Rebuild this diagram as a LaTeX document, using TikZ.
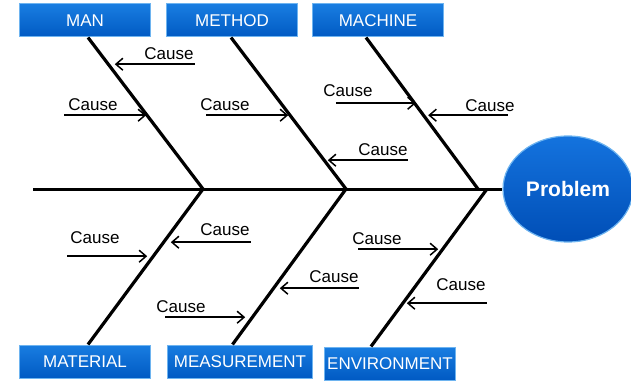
\documentclass[tikz,border=0pt]{standalone}
\usepackage{fontspec}
\setmainfont{Liberation Sans}
\usetikzlibrary{positioning, arrows.meta, shapes.geometric}

\definecolor{cattop}{RGB}{25,125,225}
\definecolor{catbottom}{RGB}{0,90,195}
\definecolor{catedge}{RGB}{110,180,240}
\definecolor{probtop}{RGB}{20,115,222}
\definecolor{probbottom}{RGB}{0,78,182}

\begin{document}
\begin{tikzpicture} [x = 1pt, y = -1pt,
			node distance = 15pt,
			category/.style = {rectangle, draw = catedge, line width = 1pt,
				top color = cattop, bottom color = catbottom,
				minimum width = 131pt, minimum height = 33pt, inner sep = 1pt,
				text = white, font = \fontsize{17}{20}\selectfont
			},
			problem/.style = {ellipse, draw = catedge, line width = 1.2pt,
				top color = probtop, bottom color = probbottom,
				minimum width = 130pt, minimum height = 106pt,
				text = white, font = \fontsize{21}{24}\selectfont\bfseries
			},
			cause/.style = {inner sep = 0pt, font = \fontsize{17}{20}\selectfont},
			bone/.style = {line width = 3.2pt},
			spine/.style = {line width = 3pt},
			causearrow/.style = {line width = 1.8pt,
				-{Straight Barb[length = 7pt, width = 12pt, line width = 1.5pt]}
			}
			]
			\useasboundingbox (0,0) rectangle (631,382);
			% Categories
			\node (man) [category] at (85,20.5) {MAN};
			\node (method) [category, right = of man] {METHOD};
			\node (machine) [category, right = 14pt of method] {MACHINE};
			\node (material) [category] at (85,361.5) {MATERIAL};
			\node (measurement) [category, right = 16pt of material, minimum width = 145pt] {MEASUREMENT};
			\node (environment) [category, right = 11pt of measurement, yshift = -2pt] {ENVIRONMENT};
			% Head
			\node (problem) [problem] at (568,189) {Problem};
			% Spine and bones
			\coordinate (tail) at (33,189);
			\coordinate (j1) at (203,189);
			\coordinate (j2) at (346,189);
			\coordinate (j3) at (478,189);
			\coordinate (j4) at (487,189);
			\draw [spine] (tail) -- (problem);
			\draw [bone] ([xshift = 3pt]man.south) -- (j1);
			\draw [bone] ([xshift = -1pt]method.south) -- (j2);
			\draw [bone] ([xshift = -12pt]machine.south) -- (j3);
			\draw [bone] (j1) -- ([xshift = 3pt]material.north);
			\draw [bone] (j2) -- ([xshift = -7.5pt]measurement.north);
			\draw [bone] (j4) -- ([xshift = -19pt]environment.north);
			% Causes
			\node (c1) [cause] at (169,54) {Cause};
			\node (c2) [cause] at (93,105) {Cause};
			\node (c3) [cause] at (225,105) {Cause};
			\node (c4) [cause] at (348,91) {Cause};
			\node (c5) [cause] at (490,106) {Cause};
			\node (c6) [cause] at (383,150) {Cause};
			\node (c7) [cause] at (95,238) {Cause};
			\node (c8) [cause] at (225,230) {Cause};
			\node (c9) [cause] at (181,307) {Cause};
			\node (c10) [cause] at (334,277) {Cause};
			\node (c11) [cause] at (377,239) {Cause};
			\node (c12) [cause] at (461,285) {Cause};
			\draw [causearrow] ([shift = {(1,4)}]c1.south east) -- ++(-80,0);
			\draw [causearrow] ([shift = {(-4,4)}]c2.south west) -- ++(82,0);
			\draw [causearrow] ([shift = {(6,4)}]c3.south west) -- ++(82,0);
			\draw [causearrow] ([shift = {(12.6,6)}]c4.south west) -- ++(80,0);
			\draw [causearrow] ([shift = {(-6.6,3)}]c5.south east) -- ++(-80,0);
			\draw [causearrow] ([shift = {(0,4)}]c6.south east) -- ++(-80,0);
			\draw [causearrow] ([shift = {(-3,12)}]c7.south west) -- ++(80,0);
			\draw [causearrow] ([shift = {(1,6)}]c8.south east) -- ++(-80,0);
			\draw [causearrow] ([shift = {(9,4)}]c9.south west) -- ++(80,0);
			\draw [causearrow] ([shift = {(0,5)}]c10.south east) -- ++(-79,0);
			\draw [causearrow] ([shift = {(6,4)}]c11.south west) -- ++(80,0);
			\draw [causearrow] ([shift = {(1,12)}]c12.south east) -- ++(-80,0);
		\end{tikzpicture}
\end{document}
